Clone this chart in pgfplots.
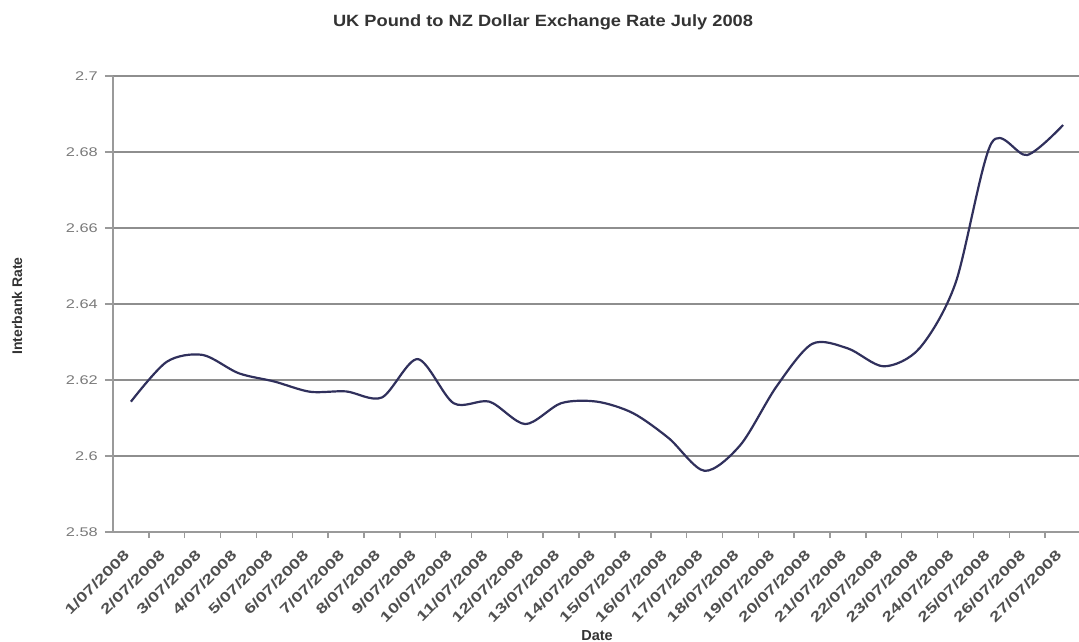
\documentclass[border=0pt]{standalone}
\usepackage{pgfplots}
\pgfplotsset{compat=1.18}
\usepackage{fontspec}
\setmainfont{Liberation Sans}
\definecolor{navyline}{HTML}{30305C}
\definecolor{gridgray}{HTML}{8E8E8E}
\definecolor{axisgray}{HTML}{9A9A9A}
\definecolor{ytickgray}{HTML}{7A7A7A}
\definecolor{xtickgray}{HTML}{505050}
\begin{document}
\begin{tikzpicture}[x=1pt,y=1pt]
\path[use as bounding box] (0,0) rectangle (1079,641);
\clip (0,0) rectangle (1079,641);
\begin{axis}[
  at={(113pt,109pt)}, anchor=south west,
  scale only axis, width=968pt, height=456pt,
  xmin=0.5, xmax=27.5, ymin=2.58, ymax=2.7,
  axis x line=bottom, axis y line=left,
  axis line style={-, draw=axisgray, line width=2pt},
  xtick={1,...,27},
  xticklabels={1/07/2008,2/07/2008,3/07/2008,4/07/2008,5/07/2008,6/07/2008,7/07/2008,8/07/2008,9/07/2008,10/07/2008,11/07/2008,12/07/2008,13/07/2008,14/07/2008,15/07/2008,16/07/2008,17/07/2008,18/07/2008,19/07/2008,20/07/2008,21/07/2008,22/07/2008,23/07/2008,24/07/2008,25/07/2008,26/07/2008,27/07/2008},
  minor x tick num=1,
  x tick style={draw=axisgray, line width=1.5pt},
  major x tick style={draw=none},
  minor tick length=6pt,
  ytick={2.58,2.6,2.62,2.64,2.66,2.68,2.7},
  yticklabels={2.58,2.6,2.62,2.64,2.66,2.68,2.7},
  y tick style={draw=axisgray, line width=1.5pt},
  major tick length=8pt,
  tick align=outside,
  ymajorgrids,
  major grid style={draw=gridgray, line width=2pt},
  yticklabel style={font=\fontsize{12.6}{14}\selectfont, text=ytickgray, xscale=1.3, anchor=east, xshift=-2pt},
  xticklabel style={font=\bfseries\fontsize{14}{16}\selectfont, text=xtickgray, xshift=-8pt, yshift=-9pt, rotate=45, xscale=1.35, anchor=north east, inner sep=0pt},
  clip=false,
]
\addplot[smooth, draw=navyline, line width=2.2pt] coordinates {
(1,2.6143) (2,2.6248) (3,2.6266) (4,2.6218) (5,2.6196) (6,2.6169) (7,2.6170)
(8,2.6154) (9,2.6255) (10,2.6139) (11,2.6143) (12,2.6084) (13,2.6139) (14,2.6143)
(15,2.6113) (16,2.6047) (17,2.5961) (18,2.6029) (19,2.6182) (20,2.6295) (21,2.6283)
(22,2.6236) (23,2.6284) (24,2.6455) (25,2.6823) (26,2.6792) (27,2.6871)
};
\end{axis}
\node[font=\bfseries\fontsize{16.3}{19}\selectfont, text=black!80, xscale=1.12, anchor=base] at (543,641-27) {UK Pound to NZ Dollar Exchange Rate July 2008};
\node[font=\bfseries\fontsize{14.5}{17}\selectfont, text=black!80, anchor=base] at (597,641-640) {Date};
\node[font=\bfseries\fontsize{14}{17}\selectfont, text=black!80, rotate=90, anchor=base] at (22,641-306) {Interbank Rate};
\end{tikzpicture}
\end{document}
